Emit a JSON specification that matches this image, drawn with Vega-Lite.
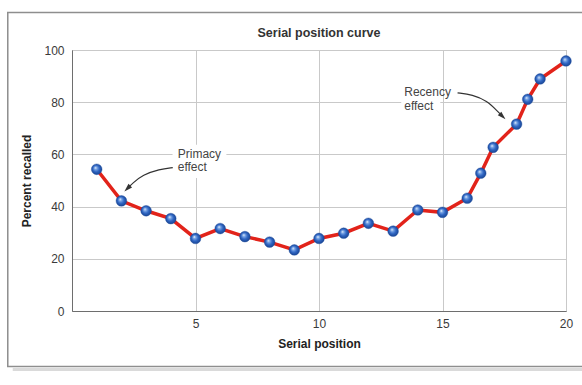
{
  "$schema": "https://vega.github.io/schema/vega-lite/v6.json",
  "width": 494,
  "height": 261,
  "autosize": {"type": "none"},
  "padding": {"left": 72, "top": 50, "right": 16, "bottom": 74},
  "background": "white",
  "title": {"text": "Serial position curve", "fontSize": 12.5, "fontWeight": "bold", "color": "#333333", "font": "Liberation Sans", "offset": -28, "anchor": "middle", "frame": "group"},
  "config": {
    "font": "Liberation Sans",
    "view": {"stroke": "#8a8a8a", "strokeWidth": 1},
    "axis": {
      "grid": true,
      "gridColor": "#c9c9c9",
      "gridWidth": 1,
      "domainColor": "#6e6e6e",
      "domainWidth": 1,
      "ticks": false,
      "labelFlush": false,
      "labelFont": "Liberation Sans",
      "labelFontSize": 12,
      "labelColor": "#3a3a3a",
      "titleFont": "Liberation Sans",
      "titleFontSize": 12,
      "titleFontWeight": "bold",
      "titleColor": "#222222"
    }
  },
  "datasets": {
    "recall": [
      {"x": 1, "y": 54.3}, {"x": 2, "y": 42.2}, {"x": 3, "y": 38.4}, {"x": 4, "y": 35.4},
      {"x": 5, "y": 27.8}, {"x": 6, "y": 31.6}, {"x": 7, "y": 28.5}, {"x": 8, "y": 26.4},
      {"x": 9, "y": 23.4}, {"x": 10, "y": 27.8}, {"x": 11, "y": 29.8}, {"x": 12, "y": 33.6},
      {"x": 13, "y": 30.6}, {"x": 14, "y": 38.7}, {"x": 15, "y": 37.8}, {"x": 16, "y": 43.2},
      {"x": 16.55, "y": 52.8}, {"x": 17.05, "y": 62.7}, {"x": 18, "y": 71.6}, {"x": 18.45, "y": 81.1},
      {"x": 18.95, "y": 88.9}, {"x": 20, "y": 95.8}
    ],
    "arrows": [
      {"id": "primacy", "o": 1, "x": 4.08, "y": 54.96},
      {"id": "primacy", "o": 2, "x": 3.54, "y": 54.35},
      {"id": "primacy", "o": 3, "x": 2.86, "y": 52.16},
      {"id": "primacy", "o": 4, "x": 2.46, "y": 48.99},
      {"id": "primacy", "o": 5, "x": 2.24, "y": 46.9},
      {"id": "recency", "o": 1, "x": 15.61, "y": 83.57},
      {"id": "recency", "o": 2, "x": 16.21, "y": 82.92},
      {"id": "recency", "o": 3, "x": 16.81, "y": 80.5},
      {"id": "recency", "o": 4, "x": 17.21, "y": 76.7},
      {"id": "recency", "o": 5, "x": 17.43, "y": 74.57}
    ],
    "heads": [
      {"id": "primacy", "x": 2.24, "y": 46.9},
      {"id": "recency", "x": 17.43, "y": 74.57}
    ],
    "labels": [
      {"x": 4.28, "y": 58.6, "text": "Primacy"},
      {"x": 4.28, "y": 53.5, "text": "effect"},
      {"x": 13.45, "y": 82.4, "text": "Recency"},
      {"x": 13.45, "y": 77.0, "text": "effect"}
    ],
    "boxes": [
      {"x": 4.07, "x2": 6.25, "y": 63.7, "y2": 51.0},
      {"x": 13.33, "x2": 14.91, "y": 87.0, "y2": 75.5}
    ],
    "frame": [
      {"x": -2.6, "x2": 21.0, "y": 114.4, "y2": -21.3}
    ],
    "shadow": [
      {"x": -2.4, "x2": 21.0, "y": -22.4}
    ]
  },
  "encoding": {
    "x": {"field": "x", "type": "quantitative", "scale": {"domain": [0, 20], "nice": false, "zero": false},
          "axis": {"values": [5, 10, 15, 20], "labelPadding": 7, "title": "Serial position", "titlePadding": 9}},
    "y": {"field": "y", "type": "quantitative", "scale": {"domain": [0, 100], "nice": false},
          "axis": {"values": [0, 20, 40, 60, 80, 100], "labelPadding": 8, "title": "Percent recalled", "titlePadding": 10}}
  },
  "layer": [
    {
      "data": {"name": "shadow"},
      "mark": {"type": "rule", "stroke": "#dadada", "strokeWidth": 3, "clip": false},
      "encoding": {"x2": {"field": "x2"}}
    },
    {
      "data": {"name": "frame"},
      "mark": {"type": "rect", "fill": "transparent", "stroke": "#8e8e8e", "strokeWidth": 1.5, "clip": false},
      "encoding": {"x2": {"field": "x2"}, "y2": {"field": "y2"}}
    },
    {
      "data": {"name": "boxes"},
      "mark": {"type": "rect", "fill": "white", "stroke": null},
      "encoding": {"x2": {"field": "x2"}, "y2": {"field": "y2"}}
    },
    {
      "data": {"name": "recall"},
      "mark": {"type": "line", "color": "#e2231a", "strokeWidth": 3.5}
    },
    {
      "data": {"name": "recall"},
      "mark": {
        "type": "point",
        "filled": true,
        "size": 115,
        "opacity": 1,
        "stroke": "#1c4d9e",
        "strokeWidth": 0.4,
        "fill": {
          "gradient": "radial",
          "x1": 0.38, "y1": 0.35, "r1": 0,
          "x2": 0.5, "y2": 0.5, "r2": 0.55,
          "stops": [
            {"offset": 0, "color": "#ffffff"},
            {"offset": 0.22, "color": "#7fa9e6"},
            {"offset": 0.55, "color": "#2f66c4"},
            {"offset": 1, "color": "#163f8a"}
          ]
        }
      }
    },
    {
      "data": {"name": "arrows"},
      "mark": {"type": "line", "color": "#333333", "strokeWidth": 1.2, "interpolate": "basis"},
      "encoding": {"detail": {"field": "id"}, "order": {"field": "o", "type": "quantitative"}}
    },
    {
      "data": {"name": "heads"},
      "transform": [{"filter": "datum.id === 'primacy'"}],
      "mark": {"type": "point", "shape": "M0,-1L0.6,1L-0.6,1Z", "filled": true, "color": "#333333", "opacity": 1, "size": 70, "angle": 225}
    },
    {
      "data": {"name": "heads"},
      "transform": [{"filter": "datum.id === 'recency'"}],
      "mark": {"type": "point", "shape": "M0,-1L0.6,1L-0.6,1Z", "filled": true, "color": "#333333", "opacity": 1, "size": 70, "angle": 135}
    },
    {
      "data": {"name": "labels"},
      "mark": {"type": "text", "align": "left", "baseline": "alphabetic", "fontSize": 12, "color": "#444444", "font": "Liberation Sans"},
      "encoding": {"text": {"field": "text"}}
    }
  ]
}
